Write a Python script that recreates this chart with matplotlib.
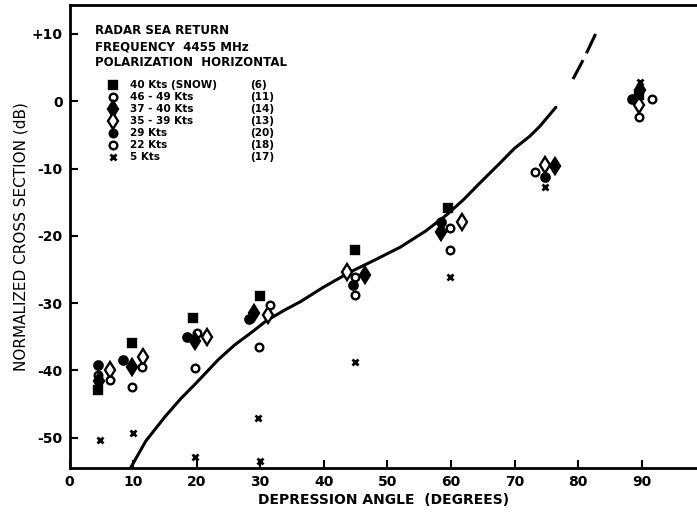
import numpy as np
import matplotlib
matplotlib.use("Agg")
import matplotlib.pyplot as plt

# radar sea return, 4455 MHz, horizontal polarization
snow40_x = [4.5, 9.9, 19.4, 30.0, 44.9, 59.5, 89.5]
snow40_y = [-42.9, -35.9, -32.2, -29.0, -22.1, -15.9, 1.0]

k46_x = [6.3, 11.4, 20.0, 31.5, 44.9, 59.8, 89.5]
k46_y = [-41.4, -39.5, -34.5, -30.3, -26.1, -18.9, -2.4]

k37_x = [4.6, 9.8, 19.7, 29.0, 46.5, 58.5, 76.3, 89.8]
k37_y = [-41.5, -39.5, -35.7, -31.5, -25.8, -19.4, -9.6, 1.6]

k35_x = [6.4, 11.6, 21.6, 31.2, 43.6, 61.7, 74.8, 89.6]
k35_y = [-40.0, -38.0, -35.0, -31.8, -25.4, -17.9, -9.5, -0.5]

k29_x = [4.5, 8.4, 18.5, 28.2, 44.6, 58.5, 74.8, 88.4]
k29_y = [-39.2, -38.4, -35.0, -32.4, -27.3, -17.9, -11.2, 0.4]

k22_x = [4.5, 9.8, 19.8, 29.8, 44.9, 59.8, 73.2, 91.6]
k22_y = [-40.7, -42.5, -39.7, -36.5, -28.8, -22.1, -10.5, 0.4]

k5_x = [4.8, 10.0, 19.8, 29.7, 30.0, 44.9, 59.8, 74.8, 89.7]
k5_y = [-50.3, -49.3, -52.8, -47.0, -53.4, -38.7, -26.1, -12.7, 2.8]

# fitted curve (solid part) and its dashed extension
curve_x = [9.6, 12, 15, 17.5, 20, 23.4, 26, 28.7, 31, 33.9, 36.3, 40, 44.1,
           48, 52, 56, 59.3, 62, 64.5, 67.7, 70, 72.4, 74, 76.5]
curve_y = [-54.5, -50.5, -46.9, -44.2, -41.8, -38.4, -36.2, -34.3, -32.6,
           -31.0, -29.8, -27.6, -25.4, -23.6, -21.7, -19.3, -16.9, -14.6,
           -12.2, -9.2, -7.0, -5.2, -3.7, -0.9]
ext_x = [79.2, 81.0, 82.8]
ext_y = [3.3, 6.5, 10.1]

xticks = [0, 10, 20, 30, 40, 50, 60, 70, 80, 90]
yticks = [-50, -40, -30, -20, -10, 0, 10]
ytick_labels = ['-50', '-40', '-30', '-20', '-10', '0', '+10']

legend_rows = [
    ('s', True, '40 Kts (SNOW)', '(6)'),
    ('o', False, '46 - 49 Kts', '(11)'),
    ('d', True, '37 - 40 Kts', '(14)'),
    ('d', False, '35 - 39 Kts', '(13)'),
    ('o', True, '29 Kts', '(20)'),
    ('o', False, '22 Kts', '(18)'),
    ('x', True, '5 Kts', '(17)'),
]

W, H = 697, 515
fig = plt.figure(figsize=(W / 100, H / 100), dpi=100)
ax = fig.add_axes([69.5 / W, 1 - 468 / H, (W - 69.5) / W, (468 - 5) / H])

ink = 'black'
MS = {'s': 6, 'o': 5.5, 'd': 8, 'x': 4.5}

ax.plot(curve_x, curve_y, color=ink, lw=2.2, solid_capstyle='round')
ax.plot(ext_x, ext_y, color=ink, lw=2.2, dashes=(7, 2.5))

def pts(x, y, marker, filled, ms, **kw):
    if marker == 'x':
        ax.plot(x, y, ls='none', marker='x', ms=ms, mew=2, color=ink, **kw)
    else:
        ax.plot(x, y, ls='none', marker=marker, ms=ms, mew=1.7,
                mec=ink, mfc=ink if filled else 'white', **kw)

pts(k5_x, k5_y, 'x', True, MS['x'])
pts(k22_x, k22_y, 'o', False, MS['o'])
pts(k35_x, k35_y, 'd', False, MS['d'])
pts(k46_x, k46_y, 'o', False, MS['o'])
pts(k29_x, k29_y, 'o', True, MS['o'] + 0.5)
pts(k37_x, k37_y, 'd', True, MS['d'])
pts(snow40_x, snow40_y, 's', True, MS['s'])

ax.set_xlim(0, 98.7)
ax.set_ylim(-54.5, 14.3)

ax.set_xticks(xticks)
ax.set_xticklabels([str(t) for t in xticks], fontsize=10, fontweight='bold')
ax.set_yticks(yticks)
ax.set_yticklabels(ytick_labels, fontsize=10, fontweight='bold')
ax.tick_params(direction='in', length=6, width=1.5, color=ink, pad=5)

for side in ['left', 'bottom', 'top']:
    ax.spines[side].set_linewidth(2)
    ax.spines[side].set_color(ink)
ax.spines['right'].set_visible(False)

ax.set_xlabel('DEPRESSION ANGLE  (DEGREES)', fontsize=10, fontweight='bold', labelpad=3)
ax.set_ylabel('NORMALIZED CROSS SECTION (dB)', fontsize=11, labelpad=2)

# key block, upper left
def axy(py):
    return (468 - py) / 463

def axx(px):
    return (px - 69.5) / 627.5

for py, line in zip([30, 47, 63],
                    ['RADAR SEA RETURN', 'FREQUENCY  4455 MHz',
                     'POLARIZATION  HORIZONTAL']):
    ax.text(axx(95), axy(py), line, transform=ax.transAxes, fontsize=8.5,
            fontweight='bold', va='center', ha='left')

for py, (m, filled, label, count) in zip([85, 97, 109, 121, 133, 145, 157], legend_rows):
    pts([axx(113)], [axy(py)], m, filled, MS[m], transform=ax.transAxes,
        clip_on=False)
    ax.text(axx(130), axy(py), label, transform=ax.transAxes, fontsize=7.5,
            fontweight='bold', va='center', ha='left')
    ax.text(axx(250), axy(py), count, transform=ax.transAxes, fontsize=7.5,
            fontweight='bold', va='center', ha='left')

fig.savefig('out.png', dpi=100)
